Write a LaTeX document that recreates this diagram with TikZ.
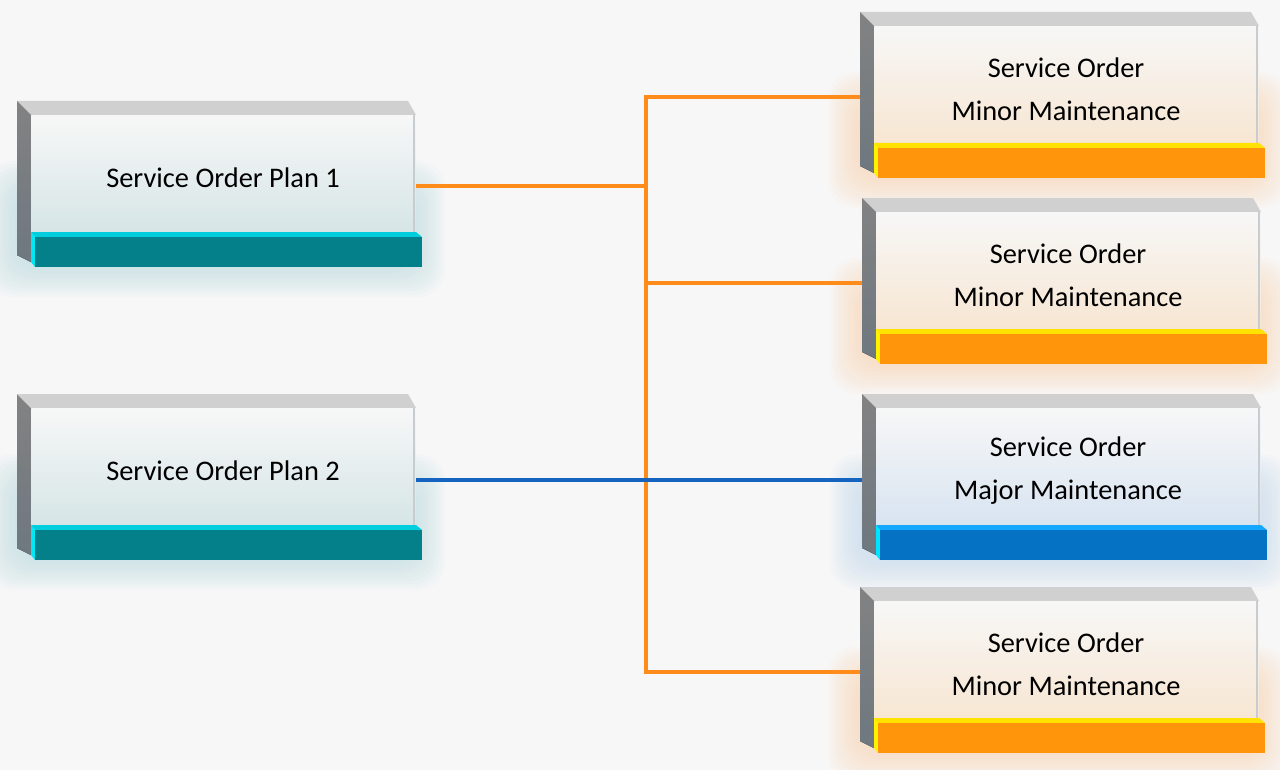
\documentclass[tikz,border=0pt]{standalone}
\usepackage{fontspec}
\setmainfont{Carlito}
\pgfdeclarelayer{glow}
\pgfdeclarelayer{bg}
\pgfsetlayers{glow,bg,main}
\definecolor{bgc}{RGB}{247,247,247}
\definecolor{tealbar}{RGB}{3,128,138}
\definecolor{tealstrip}{RGB}{0,206,222}
\definecolor{tealside}{RGB}{0,232,245}
\definecolor{tealtint}{RGB}{214,229,230}
\definecolor{tealglow}{RGB}{185,220,224}
\definecolor{orbar}{RGB}{255,149,10}
\definecolor{orstrip}{RGB}{255,226,0}
\definecolor{orside}{RGB}{255,242,0}
\definecolor{ortint}{RGB}{247,230,210}
\definecolor{orglow}{RGB}{250,212,175}
\definecolor{blbar}{RGB}{6,114,196}
\definecolor{blstrip}{RGB}{20,168,255}
\definecolor{blside}{RGB}{0,229,255}
\definecolor{bltint}{RGB}{216,228,241}
\definecolor{blglow}{RGB}{192,216,240}
\definecolor{sidetop}{RGB}{130,130,130}
\definecolor{sidebot}{RGB}{110,120,128}
\definecolor{topface}{RGB}{208,208,208}
\definecolor{faceedge}{RGB}{198,204,208}
\definecolor{facetop}{RGB}{247,247,247}
\definecolor{lineor}{RGB}{255,140,26}
\definecolor{linebl}{RGB}{21,101,192}
\tikzset{
  face/.style={rectangle, anchor=north west, inner sep=0pt, draw=none,
    minimum width=288pt, minimum height=87.75pt},
  lbl/.style={align=center, inner sep=0pt, font=\fontsize{21.3}{32.25}\selectfont, text=black},
  conn/.style={line width=2.3pt, line cap=rect},
}
\newcommand\cubebox[9]{%
  % #1 name, #2 xs, #3 yt, #4 tint, #5 bar, #6 strip, #7 side strip, #8 glow, #9 text
  \begin{pgfonlayer}{glow}
    \foreach \i in {0,...,11} {
      \fill[#8, opacity=0.075, rounded corners=20pt]
        (#2-32+3*\i, #3+60+3*\i) rectangle (#2+428-3*\i, #3+196-3*\i);
    }
  \end{pgfonlayer}
  \fill[top color=sidetop, bottom color=sidebot]
    (#2,#3) -- (#2+14,#3+14) -- (#2+14,#3+161) -- (#2,#3+154) -- cycle;
  \fill[topface] (#2,#3) -- (#2+391,#3) -- (#2+399,#3+14) -- (#2+14,#3+14) -- cycle;
  \node[face, top color=facetop, middle color=facetop!88!#4, bottom color=#4] (#1) at (#2+14,#3+14) {};
  \draw[faceedge, line width=1.2pt] (#2+397,#3+14) -- (#2+397,#3+131);
  \fill[#6] (#2+14,#3+131) -- (#2+399,#3+131) -- (#2+405,#3+136) -- (#2+18,#3+136) -- cycle;
  \fill[#7] (#2+14,#3+131) -- (#2+18,#3+136) -- (#2+18,#3+166) -- (#2+14,#3+161) -- cycle;
  \fill[#5] (#2+18,#3+136) rectangle (#2+405,#3+166);
  \node[lbl] (#1t) at (#2+206,#3+77) {#9};
}
\begin{document}
\begin{tikzpicture}[x=0.75pt, y=-0.75pt]
\useasboundingbox (0,0) rectangle (1280,770);
\begin{pgfonlayer}{glow}
  \fill[bgc] (0,0) rectangle (1280,770);
\end{pgfonlayer}

\cubebox{p1}{17}{101}{tealtint}{tealbar}{tealstrip}{tealside}{tealglow}{Service Order Plan 1}
\cubebox{p2}{17}{394}{tealtint}{tealbar}{tealstrip}{tealside}{tealglow}{Service Order Plan 2}
\cubebox{r1}{860}{12}{ortint}{orbar}{orstrip}{orside}{orglow}{Service Order\\Minor Maintenance}
\cubebox{r2}{862}{198}{ortint}{orbar}{orstrip}{orside}{orglow}{Service Order\\Minor Maintenance}
\cubebox{r3}{862}{394}{bltint}{blbar}{blstrip}{blside}{blglow}{Service Order\\Major Maintenance}
\cubebox{r4}{860}{587}{ortint}{orbar}{orstrip}{orside}{orglow}{Service Order\\Minor Maintenance}

\coordinate (jt) at (646,97);
\coordinate (j1) at (646,186);
\coordinate (j2) at (646,283);
\coordinate (jb) at (646,672);
\coordinate (jbl) at (646,480);

\begin{pgfonlayer}{bg}
  \draw[conn, lineor] (jt) -- (jb);
  \draw[conn, lineor] (p1.east |- j1) -- (j1);
  \draw[conn, lineor] (jt) -- (r1.west |- jt);
  \draw[conn, lineor] (j2) -- (r2.west |- j2);
  \draw[conn, lineor] (jb) -- (r4.west |- jb);
  \draw[conn, linebl] (p2.east |- jbl) -- (r3.west |- jbl);
\end{pgfonlayer}
\end{tikzpicture}
\end{document}
